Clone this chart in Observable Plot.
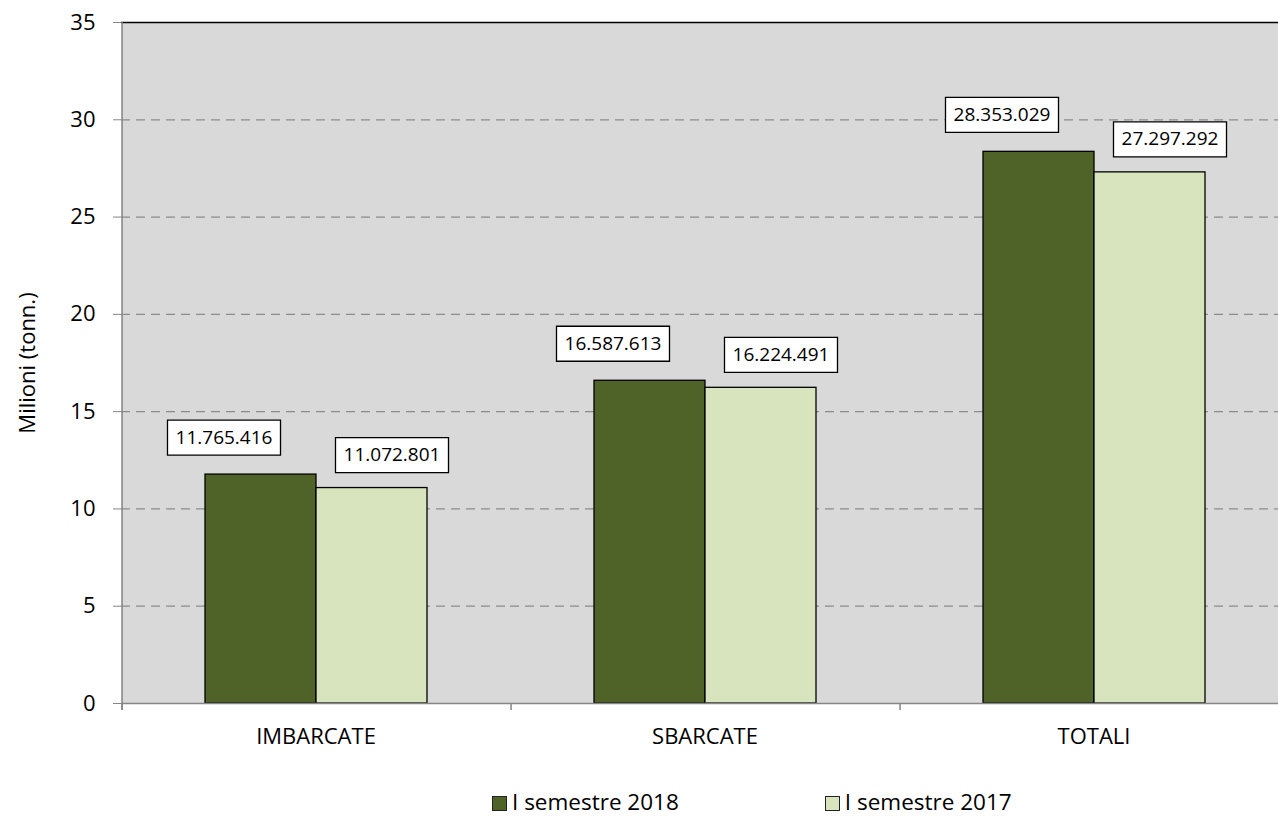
<!DOCTYPE html>
<html><head><meta charset="utf-8">
<script src="https://cdn.jsdelivr.net/npm/d3@7"></script>
<script src="https://cdn.jsdelivr.net/npm/@observablehq/plot@0.6"></script>
<style>
html,body{margin:0;padding:0;background:#fff;overflow:hidden;width:1278px;height:818px;}
#chart{position:absolute;left:0;top:0;}
#legend{position:absolute;left:492px;top:790px;display:flex;gap:146px;font-family:"Open Sans";font-size:22.5px;line-height:24px;color:#000;}
.item{display:flex;align-items:center;}
.sw{width:13px;height:13px;border:1px solid #222;margin-right:5px;margin-top:3px;}
</style></head><body>
<div id="chart"></div>
<div id="legend"></div>
<script>
const categories = ["IMBARCATE", "SBARCATE", "TOTALI"];
const series = ["I semestre 2018", "I semestre 2017"];
const values2018 = [11765416, 16587613, 28353029];
const values2017 = [11072801, 16224491, 27297292];
const yTicks = [0, 5, 10, 15, 20, 25, 30, 35];
const colors = ["#4F6228", "#D7E4BD"];

const W = 1288, ML = 121, MR = 0;
const xPadOuter = 0.75;
const facetStep = (W - ML - MR) / categories.length;
const xStep = facetStep / (series.length + 2 * xPadOuter);
const leftDx = -(xPadOuter + 0.5) * xStep;

const data = categories.flatMap((c, i) => [
  {cat: c, series: series[0], v: values2018[i]},
  {cat: c, series: series[1], v: values2017[i]}
]);
const fmt = d3.formatLocale({thousands: ".", grouping: [3], decimal: ",", currency: ["€", ""]}).format(",d");
const box = {draw(ctx) { ctx.rect(-56.5, -17.5, 113, 35); }};
const labelMarks = series.flatMap((s, k) => {
  const d = data.filter(e => e.series === s);
  const dx = k === 0 ? -37 : 20, dy = k === 0 ? -37 : -33;
  return [
    Plot.dot(d, {fx: "cat", x: "series", y: e => e.v / 1e6, symbol: box, fill: "white", stroke: "black", strokeWidth: 1.3, dx, dy}),
    Plot.text(d, {fx: "cat", x: "series", y: e => e.v / 1e6, text: e => fmt(e.v), dx, dy, fontSize: 19, fill: "black"})
  ];
});

const plot = Plot.plot({
  width: W, height: 770, marginTop: 22, marginBottom: 67, marginLeft: ML, marginRight: MR,
  style: {fontFamily: "Open Sans", fontSize: "22px", color: "black", background: "white", overflow: "visible", maxWidth: "none"},
  fx: {domain: categories, padding: 0, label: null},
  x: {domain: series, paddingInner: 0, paddingOuter: xPadOuter, axis: null},
  y: {domain: [0, 35], label: "Milioni (tonn.)"},
  color: {domain: series, range: colors},
  marks: [
    Plot.frame({fill: "#D9D9D9", stroke: "none", insetRight: -2}),
    Plot.gridY([5, 10, 15, 20, 25, 30], {stroke: "#8c8c8c", strokeOpacity: 1, strokeWidth: 1.3, strokeDasharray: "9,6"}),
    Plot.ruleY([35], {stroke: "#000", strokeWidth: 1.3}),
    Plot.barY(data, {fx: "cat", x: "series", y: e => e.v / 1e6, fill: "series", stroke: "black", strokeWidth: 1.3}),
    Plot.ruleY([0], {stroke: "#868686", strokeWidth: 1.5}),
    Plot.ruleX([categories[0]], {fx: d => d, x: () => series[0], y1: 35, y2: 0, insetBottom: -7, dx: leftDx, stroke: "#868686", strokeWidth: 1.5}),
    Plot.ruleX(categories, {fx: d => d, x: () => series[0], y1: 0, y2: 0, insetBottom: -7, dx: leftDx, stroke: "#868686", strokeWidth: 1.5}),
    Plot.axisY(yTicks, {anchor: "left", tickSize: 8, tickPadding: 18, stroke: "#868686", fill: "black", label: "Milioni (tonn.)", labelAnchor: "center", labelArrow: "none", labelOffset: 102, fontSize: 22}),
    Plot.axisFx({anchor: "bottom", tickSize: 0, tickPadding: 25, label: null, fontSize: 22, fill: "black"}),
    ...labelMarks
  ]
});
document.getElementById("chart").appendChild(plot);

const legend = document.getElementById("legend");
series.forEach((s, i) => {
  const it = document.createElement("div");
  it.className = "item";
  const sw = document.createElement("span");
  sw.className = "sw";
  sw.style.background = colors[i];
  const t = document.createElement("span");
  t.textContent = s;
  it.appendChild(sw); it.appendChild(t);
  legend.appendChild(it);
});
</script>
</body></html>
